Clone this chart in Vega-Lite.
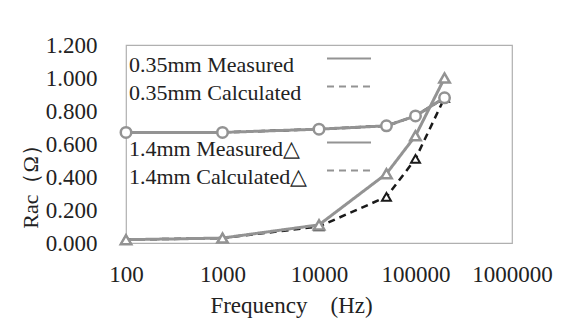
{
  "$schema": "https://vega.github.io/schema/vega-lite/v6.json",
  "width": 386,
  "height": 198,
  "autosize": {"type": "none"},
  "padding": {"left": 126, "top": 45, "right": 64, "bottom": 89},
  "background": "white",
  "config": {
    "font": "Liberation Serif",
    "view": {"stroke": "#b0b0b0", "strokeWidth": 1.2},
    "axis": {"labelFont": "Liberation Serif", "titleFont": "Liberation Serif", "labelColor": "#222", "titleColor": "#222", "grid": false, "ticks": false, "domain": false, "titleFontWeight": "normal", "labelFlush": false, "labelOverlap": false}
  },
  "data": {
    "values": [
      {"series": "0.35mm Measured", "type": "Measured", "frequency": 100, "rac": 0.67},
      {"series": "0.35mm Measured", "type": "Measured", "frequency": 1000, "rac": 0.67},
      {"series": "0.35mm Measured", "type": "Measured", "frequency": 10000, "rac": 0.69},
      {"series": "0.35mm Measured", "type": "Measured", "frequency": 50000, "rac": 0.71},
      {"series": "0.35mm Measured", "type": "Measured", "frequency": 100000, "rac": 0.77},
      {"series": "0.35mm Measured", "type": "Measured", "frequency": 200000, "rac": 0.88},
      {"series": "0.35mm Calculated", "type": "Calculated", "frequency": 100, "rac": 0.67},
      {"series": "0.35mm Calculated", "type": "Calculated", "frequency": 1000, "rac": 0.67},
      {"series": "0.35mm Calculated", "type": "Calculated", "frequency": 10000, "rac": 0.69},
      {"series": "0.35mm Calculated", "type": "Calculated", "frequency": 50000, "rac": 0.71},
      {"series": "0.35mm Calculated", "type": "Calculated", "frequency": 100000, "rac": 0.77},
      {"series": "0.35mm Calculated", "type": "Calculated", "frequency": 200000, "rac": 0.88},
      {"series": "1.4mm Measured△", "type": "Measured", "frequency": 100, "rac": 0.02},
      {"series": "1.4mm Measured△", "type": "Measured", "frequency": 1000, "rac": 0.03},
      {"series": "1.4mm Measured△", "type": "Measured", "frequency": 10000, "rac": 0.11},
      {"series": "1.4mm Measured△", "type": "Measured", "frequency": 50000, "rac": 0.42},
      {"series": "1.4mm Measured△", "type": "Measured", "frequency": 100000, "rac": 0.65},
      {"series": "1.4mm Measured△", "type": "Measured", "frequency": 200000, "rac": 1.0},
      {"series": "1.4mm Calculated△", "type": "Calculated", "frequency": 100, "rac": 0.02},
      {"series": "1.4mm Calculated△", "type": "Calculated", "frequency": 1000, "rac": 0.03},
      {"series": "1.4mm Calculated△", "type": "Calculated", "frequency": 10000, "rac": 0.1},
      {"series": "1.4mm Calculated△", "type": "Calculated", "frequency": 50000, "rac": 0.28},
      {"series": "1.4mm Calculated△", "type": "Calculated", "frequency": 100000, "rac": 0.51},
      {"series": "1.4mm Calculated△", "type": "Calculated", "frequency": 200000, "rac": 0.88}
    ]
  },
  "encoding": {
    "x": {
      "field": "frequency", "type": "quantitative",
      "scale": {"type": "log", "domain": [100, 1000000]},
      "axis": {"values": [100, 1000, 10000, 100000, 1000000], "format": "d", "labelFontSize": 23, "labelPadding": 20, "title": "Frequency\u3000(Hz)", "titleFontSize": 23, "titleX": 165, "titleY": 62, "titleBaseline": "middle"}
    },
    "y": {
      "field": "rac", "type": "quantitative",
      "scale": {"domain": [0, 1.2], "nice": false},
      "axis": {"values": [0, 0.2, 0.4, 0.6, 0.8, 1.0, 1.2], "format": ".3f", "labelFontSize": 23, "labelPadding": 29, "title": "Rac\uff08\u03a9\uff09", "titleFontSize": 22, "titleX": -96, "titleY": 136, "titleBaseline": "middle", "titleAngle": -90}
    }
  },
  "layer": [
    {
      "transform": [{"filter": "datum.type === 'Calculated'"}],
      "mark": {"type": "line", "color": "#1a1a1a", "strokeWidth": 2.5},
      "encoding": {
        "strokeDash": {
          "field": "series", "type": "nominal",
          "scale": {"domain": ["0.35mm Measured", "0.35mm Calculated", " ", "1.4mm Measured△", "1.4mm Calculated△"], "range": [[1, 0], [7, 5], [0, 100], [1, 0], [7, 5]]},
          "legend": {"orient": "none", "legendX": 211, "legendY": 8, "title": null, "padding": 0, "symbolType": "M-2,-0.6H2", "symbolSize": 484, "symbolStrokeWidth": 2, "symbolStrokeColor": "#222", "symbolFillColor": "transparent", "labelFont": "Liberation Serif", "labelFontSize": 22, "labelColor": "#222", "labelOffset": -232, "labelLimit": 500, "labelBaseline": "middle", "rowPadding": 5}
        }
      }
    },
    {
      "transform": [{"filter": "datum.type === 'Calculated'"}],
      "mark": {"type": "point", "filled": true, "fill": "white", "stroke": "#1a1a1a", "strokeWidth": 2, "size": 80, "opacity": 1},
      "encoding": {
        "shape": {"field": "series", "type": "nominal", "scale": {"domain": ["0.35mm Measured", "0.35mm Calculated", "1.4mm Measured△", "1.4mm Calculated△"], "range": ["circle", "circle", "triangle-up", "triangle-up"]}, "legend": null}
      }
    },
    {
      "transform": [{"filter": "datum.type === 'Measured'"}],
      "mark": {"type": "line", "color": "#939393", "strokeWidth": 3},
      "encoding": {
        "strokeDash": {"field": "series", "type": "nominal"}
      }
    },
    {
      "transform": [{"filter": "datum.type === 'Measured'"}],
      "mark": {"type": "point", "filled": true, "fill": "white", "stroke": "#939393", "strokeWidth": 2.5, "size": 110, "opacity": 1},
      "encoding": {
        "shape": {"field": "series", "type": "nominal", "legend": null}
      }
    }
  ]
}
